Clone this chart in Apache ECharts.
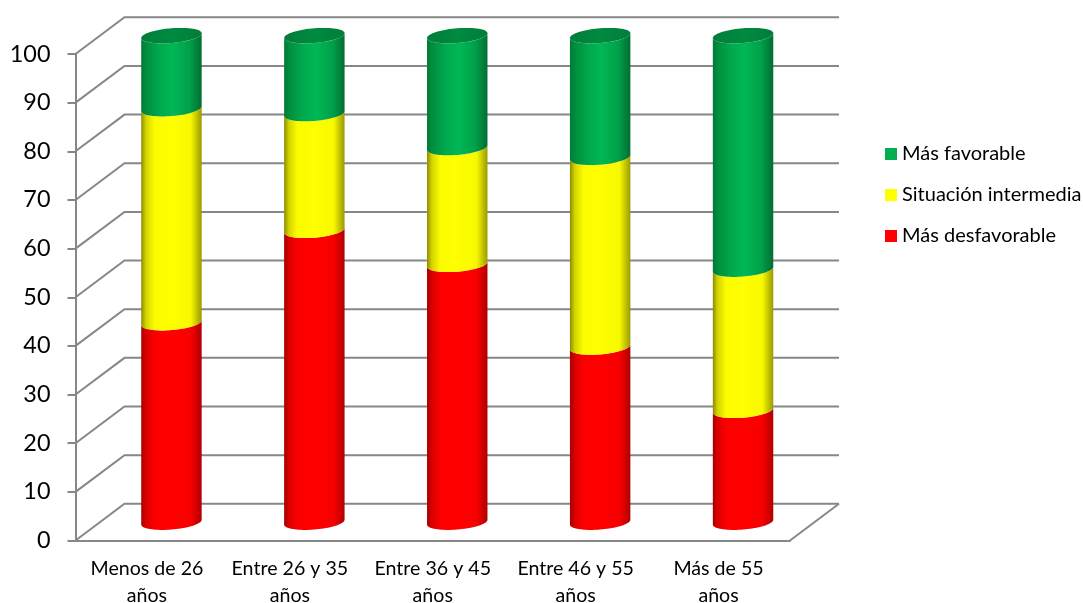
<!DOCTYPE html>
<html>
<head>
<meta charset="utf-8">
<style>html,body{margin:0;padding:0;background:#fff}#chart{width:1083px;height:603px}</style>
<script src="https://cdn.jsdelivr.net/npm/echarts@6/dist/echarts.min.js"></script>
</head>
<body>
<div id="chart"></div>
<script>
// Distribution by age band, stacked to 100
const categories = ['Menos de 26\naños', 'Entre 26 y 35\naños', 'Entre 36 y 45\naños', 'Entre 46 y 55\naños', 'Más de 55\naños'];
const masDesfavorable = [41, 60, 53, 36, 23];
const intermedia = [44, 24, 24, 39, 29];
const masFavorable = [15, 16, 23, 25, 48];
const yTicks = [0, 10, 20, 30, 40, 50, 60, 70, 80, 90, 100];

// Oblique projection of the chart box
const DEPTH_X = 49, DEPTH_Y = 36.7;
const LINE_COLOR = '#878787';
const RADIUS_RATIO = 0.2115, ELLIPSE_B = 7.4, ELLIPSE_TILT = 2.4;

function shade(stops) {
  return new echarts.graphic.LinearGradient(0, 0, 1, 0,
    stops.map(s => ({ offset: s[0], color: s[1] })));
}
const redFill = shade([[0, '#a80000'], [0.08, '#d80000'], [0.22, '#fb0000'], [0.5, '#ff0000'], [0.82, '#f80000'], [1, '#b00000']]);
const yellowFill = shade([[0, '#8c8c00'], [0.08, '#d4d400'], [0.22, '#fcfc00'], [0.5, '#ffff00'], [0.82, '#f8f800'], [1, '#9a9a00']]);
const greenFill = shade([[0, '#007a38'], [0.1, '#00903f'], [0.3, '#00a84c'], [0.52, '#00b855'], [0.8, '#00a049'], [1, '#006e33']]);
const capFill = shade([[0, '#007d3a'], [0.5, '#008a40'], [1, '#007d3a']]);

// Point on the tilted ellipse that a cylinder section projects to
function ellipsePoint(cx, cy, a, t) {
  return [cx + a * Math.cos(t), cy + ELLIPSE_B * Math.sin(t) - ELLIPSE_TILT * Math.cos(t)];
}

function frontArc(cx, cy, a, reverse) {
  const pts = [];
  const n = 40;
  for (let i = 0; i <= n; i++) {
    const k = reverse ? n - i : i;
    pts.push(ellipsePoint(cx, cy, a, Math.PI * k / n));
  }
  return pts;
}

// One stacked section of a cylinder, from base to top of the stack
function cylinderItem(fill, withCap) {
  return function (params, api) {
    const idx = api.value(0);
    const band = api.size([1, 0])[0];
    const a = band * RADIUS_RATIO;
    const pBase = api.coord([idx, api.value(1)]);
    const pTop = api.coord([idx, api.value(2)]);
    const cx = pBase[0] + DEPTH_X / 2;
    const yBase = pBase[1] - DEPTH_Y / 2;
    const yTop = pTop[1] - DEPTH_Y / 2;
    const children = [{
      type: 'polygon',
      shape: { points: frontArc(cx, yTop, a, false).concat(frontArc(cx, yBase, a, true)) },
      style: { fill: fill }
    }];
    if (withCap) {
      const ring = [];
      for (let i = 0; i < 72; i++) ring.push(ellipsePoint(cx, yTop, a, 2 * Math.PI * i / 72));
      children.push({ type: 'polygon', shape: { points: ring }, style: { fill: capFill } });
    }
    return { type: 'group', children: children };
  };
}

// Back wall gridline and the side-wall diagonal for one tick value
function wallItem(params, api) {
  const v = api.value(1);
  const band = api.size([1, 0])[0];
  const first = api.coord([0, v]);
  const left = first[0] - band / 2;
  const right = left + band * categories.length;
  const y = first[1];
  const children = [{
    type: 'polyline',
    shape: { points: [[left, y], [left + DEPTH_X, y - DEPTH_Y], [right + DEPTH_X, y - DEPTH_Y]] },
    style: { stroke: LINE_COLOR, lineWidth: 2, fill: null }
  }];
  if (v === 0) {
    children.push({
      type: 'line',
      shape: { x1: right, y1: y, x2: right + DEPTH_X, y2: y - DEPTH_Y },
      style: { stroke: LINE_COLOR, lineWidth: 2 }
    });
  }
  return { type: 'group', children: children };
}

function stackData(base, values) {
  return values.map((v, i) => [i, base[i], base[i] + v]);
}
const zero = categories.map(() => 0);
const redTop = masDesfavorable.slice();
const yellowTop = redTop.map((v, i) => v + intermedia[i]);

const cylinderEncode = { x: 0, y: [1, 2] };
const chart = echarts.init(document.getElementById('chart'), null, { renderer: 'canvas' });
chart.setOption({
  animation: false,
  backgroundColor: '#fff',
  grid: { left: 75.5, right: 293, top: 54, bottom: 62.5, containLabel: false, outerBoundsMode: 'none' },
  legend: {
    orient: 'vertical', left: 880, top: 139, itemWidth: 12, itemHeight: 12, itemGap: 21,
    icon: 'rect',
    data: ['Más favorable', 'Situación intermedia', 'Más desfavorable'],
    textStyle: { fontFamily: 'Lato', fontSize: 20, color: '#000' },
    selectedMode: false
  },
  xAxis: {
    type: 'category', data: categories,
    axisLine: { lineStyle: { color: LINE_COLOR, width: 2 } },
    axisTick: { length: 7, lineStyle: { color: LINE_COLOR, width: 2 } },
    axisLabel: { color: '#000', fontFamily: 'Lato', fontSize: 19.6, lineHeight: 27, margin: 15, interval: 0 }
  },
  yAxis: {
    type: 'value', min: 0, max: 100, interval: 10,
    axisLine: { show: true, lineStyle: { color: LINE_COLOR, width: 2 } },
    axisTick: { show: true, length: 8, lineStyle: { color: LINE_COLOR, width: 2 } },
    axisLabel: { color: '#000', fontFamily: 'Lato', fontSize: 23.4, margin: 25 },
    splitLine: { show: false }
  },
  series: [
    { type: 'custom', name: 'walls', silent: true, clip: false, z: 1, renderItem: wallItem,
      data: yTicks.map(v => [0, v]), encode: { x: 0, y: 1 } },
    { type: 'custom', name: 'Más desfavorable', clip: false, z: 2, itemStyle: { color: '#ff0000' },
      renderItem: cylinderItem(redFill, false), data: stackData(zero, masDesfavorable), encode: cylinderEncode },
    { type: 'custom', name: 'Situación intermedia', clip: false, z: 3, itemStyle: { color: '#ffff00' },
      renderItem: cylinderItem(yellowFill, false), data: stackData(redTop, intermedia), encode: cylinderEncode },
    { type: 'custom', name: 'Más favorable', clip: false, z: 4, itemStyle: { color: '#00b050' },
      renderItem: cylinderItem(greenFill, true), data: stackData(yellowTop, masFavorable), encode: cylinderEncode }
  ]
});
</script>
</body>
</html>
